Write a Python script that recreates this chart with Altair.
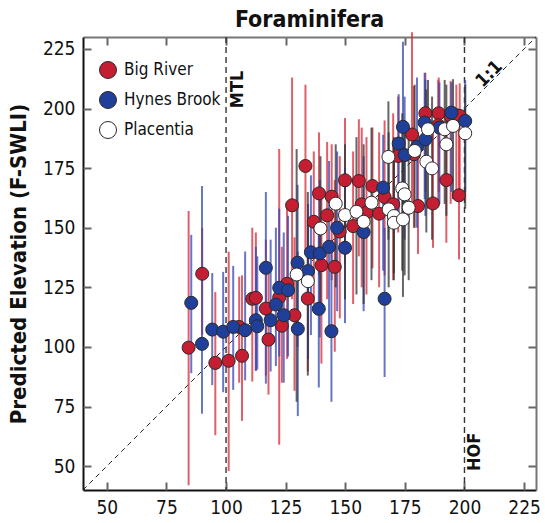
import altair as alt
import pandas as pd

# ---------------- data ----------------
sites = ["Big River", "Hynes Brook", "Placentia"]

br_x  = [84.3, 90.0, 95.5, 101.1, 106.7, 105.5, 111.0, 112.5, 116.7, 117.8, 122.3, 123.4, 125.6, 128.7, 134.3,
         127.7, 133.3, 139.0, 144.3, 140.0, 145.6, 136.8, 142.4, 147.7, 149.9, 155.7, 153.3, 156.9, 158.9, 161.4,
         164.2, 166.5, 170.1, 172.2, 178.0, 178.8, 180.5, 183.6, 189.2, 194.2, 196.6, 198.0, 186.8, 192.4, 197.7, 189.0]
br_y  = [99.7, 130.7, 93.3, 94.2, 96.3, 108.4, 120.2, 120.6, 116.1, 103.1, 120.8, 108.9, 126.5, 113.3, 120.3,
         159.4, 175.9, 164.4, 163.0, 134.3, 133.6, 152.5, 155.2, 148.4, 169.9, 169.6, 150.7, 159.8, 156.3, 167.5,
         155.9, 162.9, 159.8, 180.1, 189.1, 180.8, 159.1, 198.0, 198.0, 196.9, 197.2, 196.9, 160.2, 170.0, 163.6, 193.0]
br_lo = [42, 105, 63, 48, 69, 85, 85.5, 90, 88, 80, 59, 85, 95, 81.6, 89.7,
         120, 140, 130, 128, 93, 98, 118, 120, 112, 135, 138, 118, 125, 122, 133,
         125, 130, 128, 148, 160, 150, 139, 165, 165, 160, 162, 165, 141.6, 143.7, 136.7, 160]
br_hi = [157, 150, 123, 140, 130, 129.5, 150, 148, 145, 132, 183, 142, 160, 146, 152,
         213, 210, 190, 185, 165, 170, 182, 186, 180, 196, 195.5, 182, 192, 188, 192,
         190, 195, 198, 205, 232, 209.5, 190, 215, 213, 211.6, 210, 210.6, 190, 200, 192, 212]

hb_x  = [85.4, 89.9, 94.2, 98.8, 103.0, 108.0, 112.5, 113.1, 116.7, 118.7, 120.9, 122.3, 124.2, 126.0, 130.1,
         130.0, 134.4, 135.6, 138.9, 139.3, 143.2, 144.2, 146.6, 149.9, 157.7, 165.9, 166.5, 172.4, 174.2, 174.9,
         180.1, 183.6, 183.3, 194.5, 200.3, 189.5]
hb_y  = [118.5, 101.3, 107.3, 106.4, 108.4, 107.0, 111.2, 108.7, 133.2, 111.2, 117.8, 124.8, 113.3, 123.8, 107.6,
         135.3, 131.8, 139.7, 116.0, 139.2, 142.0, 106.6, 150.0, 141.6, 148.2, 166.8, 120.2, 185.3, 192.3, 180.5,
         184.0, 187.1, 194.1, 198.3, 194.8, 192.0]
hb_lo = [89, 72, 84, 81, 82, 86, 90, 90.5, 84.6, 89.7, 92, 96, 85, 96, 71,
         100, 95, 105, 83, 104, 108, 77, 115, 110, 115, 132, 87.4, 155, 160, 145,
         150, 155, 162, 165, 165, 160]
hb_hi = [147, 167.5, 131, 131.5, 134, 140, 142, 138, 165, 145, 150, 158, 148, 155, 140,
         168, 160, 172, 150, 170, 178, 140, 182, 175, 180, 189, 150, 206, 228, 205,
         213, 212, 215, 211, 212, 211]

pl_x  = [129.6, 134.3, 146.0, 139.6, 149.9, 154.7, 157.7, 161.0, 168.1, 168.2, 170.4, 170.4, 173.9, 174.9, 174.2,
         176.6, 179.1, 184.0, 184.7, 186.4, 191.7, 192.4, 195.2, 200.3]
pl_y  = [130.4, 127.6, 160.1, 149.7, 155.3, 156.7, 152.5, 160.5, 179.7, 157.7, 154.9, 152.1, 166.5, 164.0, 153.5,
         158.4, 182.2, 177.7, 191.3, 174.9, 191.3, 185.0, 192.7, 189.6]
pl_lo = [77, 88, 125, 115, 120, 122, 118, 128, 145, 125, 128, 131, 132, 130, 121,
         128, 150, 148, 158, 145, 160, 155, 162, 158]
pl_hi = [183, 165, 185, 180, 185, 188, 185, 192, 203, 190, 188, 185, 198, 195, 186,
         192, 210, 208, 212, 205, 212, 210, 212.3, 210]

tick_values = [50, 75, 100, 125, 150, 175, 200, 225]
ref_x = [100, 200]                      # MTL and HOF
ann_text = ["MTL", "HOF"]
ann_x = [105.0, 204.6]
ann_y = [208.0, 56.0]
one_to_one = [40, 230]

# ---------------- styling ----------------
FONT = "Liberation Sans Narrow, DejaVu Sans Condensed, Liberation Sans, sans-serif"
FILL = ["#c51d31", "#1f3f9a", "#ffffff"]
LINE = ["#d42a3a", "#3447b0", "#333333"]
W = H = 453

rows = []
for s, xs, ys, los, his in [(sites[0], br_x, br_y, br_lo, br_hi),
                            (sites[1], hb_x, hb_y, hb_lo, hb_hi),
                            (sites[2], pl_x, pl_y, pl_lo, pl_hi)]:
    for a, b, c, d in zip(xs, ys, los, his):
        rows.append({"site": s, "obs": a, "pred": b, "lo": c, "hi": d})
df = pd.DataFrame(rows)

xs_ = alt.Scale(domain=[40, 230], nice=False, zero=False)
ys_ = alt.Scale(domain=[40, 230], nice=False, zero=False)

lab_kw = dict(labelFont=FONT, labelFontSize=19, labelColor="#111", grid=False, values=tick_values)

# labelled bottom / left axes (carried by an invisible layer)
axes_main = alt.Chart(df).mark_point(opacity=0).encode(
    x=alt.X("obs:Q", scale=xs_, axis=alt.Axis(orient="bottom", title=None, ticks=False,
                                             domainColor="#111", domainWidth=2, labelPadding=8, **lab_kw)),
    y=alt.Y("pred:Q", scale=ys_, axis=alt.Axis(orient="left", title="Predicted Elevation (F-SWLI)",
                                              titleFont=FONT, titleFontSize=22, titleFontWeight="bold",
                                              titleColor="#111", titlePadding=12, ticks=False,
                                              domainColor="#111", domainWidth=2, labelPadding=8, **lab_kw)),
)

# error bars, one layer per site
bar_layers = []
for s, c in zip(sites, LINE):
    bar_layers.append(
        alt.Chart(df).transform_filter(alt.datum.site == s).mark_rule(
            strokeWidth=2, opacity=0.75, color=c).encode(
            x=alt.X("obs:Q", scale=xs_, axis=None),
            y=alt.Y("lo:Q", scale=ys_, axis=None),
            y2="hi:Q",
        )
    )

# inward ticks on bottom and left (axes flipped and moved inside)
tick_kw = dict(labels=False, title=None, grid=False, values=tick_values, ticks=True, tickSize=8,
               tickColor="#666", tickWidth=2)
ticks_bl = alt.Chart(df).mark_point(opacity=0).encode(
    x=alt.X("obs:Q", scale=xs_, axis=alt.Axis(orient="top", offset=-H, domain=False, **tick_kw)),
    y=alt.Y("pred:Q", scale=ys_, axis=alt.Axis(orient="right", offset=-W, domain=False, **tick_kw)),
)
# inward ticks and frame on top and right
ticks_tr = alt.Chart(df).mark_point(opacity=0).encode(
    x=alt.X("obs:Q", scale=xs_, axis=alt.Axis(orient="bottom", offset=-H, domain=True,
                                             domainColor="#777", domainWidth=2, **tick_kw)),
    y=alt.Y("pred:Q", scale=ys_, axis=alt.Axis(orient="left", offset=-W, domain=True,
                                              domainColor="#777", domainWidth=2, **tick_kw)),
)

diag = alt.Chart(pd.DataFrame({"a": one_to_one})).mark_line(
    color="#222", strokeWidth=1, strokeDash=[5, 4]).encode(
    x=alt.X("a:Q", scale=xs_, axis=None), y=alt.Y("a:Q", scale=ys_, axis=None))

vlines = alt.Chart(pd.DataFrame({"v": ref_x})).mark_rule(
    color="#333", strokeWidth=1.4, strokeDash=[6, 4]).encode(x=alt.X("v:Q", scale=xs_, axis=None))

ann = alt.Chart(pd.DataFrame({"t": ann_text, "x": ann_x, "y": ann_y})).mark_text(
    angle=270, font=FONT, fontSize=18, fontWeight="bold", color="#111").encode(
    x=alt.X("x:Q", scale=xs_, axis=None), y=alt.Y("y:Q", scale=ys_, axis=None), text="t:N")

ann11 = alt.Chart(pd.DataFrame({"t": ["1:1"], "x": [210.5], "y": [214.4]})).mark_text(
    angle=315, font=FONT, fontSize=18, fontWeight="bold", color="#111").encode(
    x=alt.X("x:Q", scale=xs_, axis=None), y=alt.Y("y:Q", scale=ys_, axis=None), text="t:N")

pts = alt.Chart(df).mark_circle(size=170, opacity=1, stroke="#2a2a2a", strokeWidth=1).encode(
    x=alt.X("obs:Q", scale=xs_, axis=None),
    y=alt.Y("pred:Q", scale=ys_, axis=None),
    fill=alt.Fill("site:N", scale=alt.Scale(domain=sites, range=FILL),
                  legend=alt.Legend(title=None, orient="none", legendX=16, legendY=24,
                                    symbolSize=289, symbolStrokeColor="#2a2a2a", symbolStrokeWidth=1,
                                    symbolOpacity=1, labelFont=FONT, labelFontSize=17,
                                    labelColor="#111", labelOffset=7, rowPadding=8, padding=0)),
    order=alt.Order("site:N"),
)

chart = alt.layer(diag, vlines, axes_main, *bar_layers, ticks_bl, ticks_tr, ann, ann11, pts).resolve_axis(
    x="independent", y="independent"
).properties(
    width=W, height=H,
    title=alt.TitleParams("Foraminifera", font=FONT, fontSize=23, fontWeight="bold",
                          color="#111", anchor="middle", baseline="alphabetic", offset=8,
                          frame="group", dy=27),
    autosize=alt.AutoSizeParams(type="none"),
    padding={"left": 83, "top": 37, "right": 9, "bottom": 33},
).configure_view(stroke=None)

chart.save("out.html", embed_options={"renderer": "svg", "actions": False})
